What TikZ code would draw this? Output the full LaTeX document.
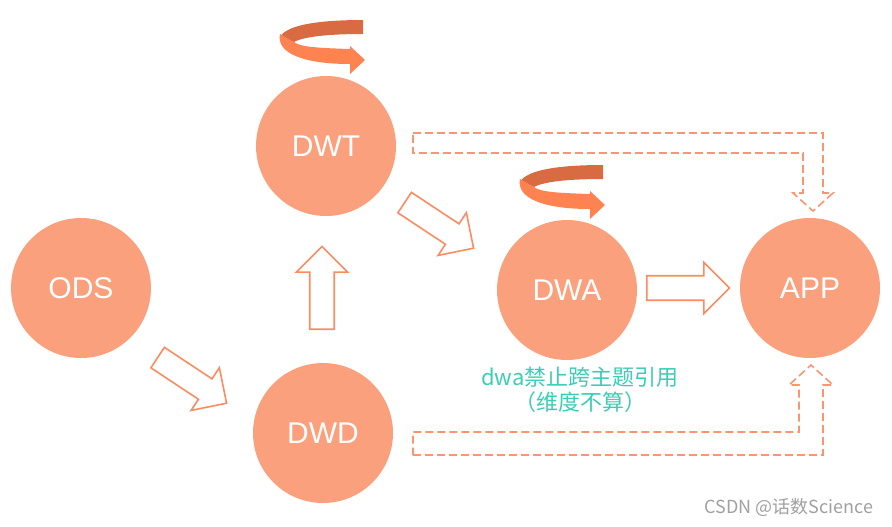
\documentclass[tikz,border=0pt]{standalone}
\usepackage{fontspec}
\setmainfont{Liberation Sans}
\newfontfamily\cjk{Noto Sans CJK SC}
\usetikzlibrary{shapes.arrows}

\definecolor{layerfill}{HTML}{FBA07C}
\definecolor{arrowline}{HTML}{FA8C60}
\definecolor{dashline}{HTML}{F9956F}
\definecolor{spindark}{HTML}{D86B42}
\definecolor{spinlight}{HTML}{FF8251}
\definecolor{notecolor}{HTML}{3CCDB5}
\definecolor{markgray}{HTML}{A0A0A0}

\begin{document}
\begin{tikzpicture}[
    x = 0.75pt, y = -0.75pt,
    layer/.style = {circle, fill = layerfill, text = white,
      font = \fontsize{22.5}{27}\selectfont,
      minimum size = 105pt, inner sep = 0pt},
    hollow/.style = {single arrow, draw = arrowline, line width = 1.2pt,
      single arrow head extend = 10pt, inner sep = 8.6pt,
      minimum height = 62pt},
    dashed arrow/.style = {draw = dashline, line width = 1.2pt,
      dash pattern = on 6pt off 3pt},
    ]

    \useasboundingbox (0, 0) rectangle (892, 526);

    \node at (81, 288) [layer, name = ods] {ODS};
    \node at (326, 146) [layer, name = dwt] {DWT};
    \node at (323, 433) [layer, name = dwd] {DWD};
    \node at (567, 290) [layer, name = dwa] {DWA};
    \node at (810, 288) [layer, name = app] {APP};

    \node at (187, 377) [hollow, rotate = -33.5, name = ods_dwd] {};
    \node at (434, 222) [hollow, rotate = -33.5, name = dwt_dwa] {};
    \node at (322, 294) [hollow, rotate = 90, name = dwd_dwt] {};
    \node at (682, 288) [hollow, name = dwa_app] {};

    \draw [dashed arrow] (413, 133) -| (823, 193) -- (833, 193)
    -- (813, 211) -- (793, 193) -- (803, 193) |- (413, 153) -- cycle;

    \draw [dashed arrow] (413, 455) -| (823, 385) -- (833, 385)
    -- (811, 365) -- (789, 385) -- (799, 385) |- (413, 432) -- cycle;

    \foreach \sx/\sy in {363/20, 603/165} {
      \begin{scope}[shift = {(\sx, \sy)}]
        \fill [spindark] (0, 0) -- (0, 14)
        .. controls (-30, 14) and (-58, 16) .. (-69, 22)
        -- (-83, 17) .. controls (-76, 4) and (-40, 0) .. cycle;
        \fill [spinlight] (-83, 14)
        .. controls (-87, 33) and (-60, 44) .. (-13, 44)
        -- (-13, 54) -- (2, 40) -- (-13, 26) -- (-13, 29)
        .. controls (-45, 28) and (-63, 27) .. (-69, 22) -- cycle;
      \end{scope}
    }

    \node at (580, 390) [text = notecolor, align = center,
      font = \cjk\fontsize{16.5}{18.75}\selectfont, name = note]
    {dwa禁止跨主题引用\\（维度不算）};

    \node at (878, 507) [anchor = east, text = markgray,
      font = \cjk\fontsize{13.5}{16}\selectfont, name = mark]
    {CSDN @话数Science};

  \end{tikzpicture}
\end{document}
